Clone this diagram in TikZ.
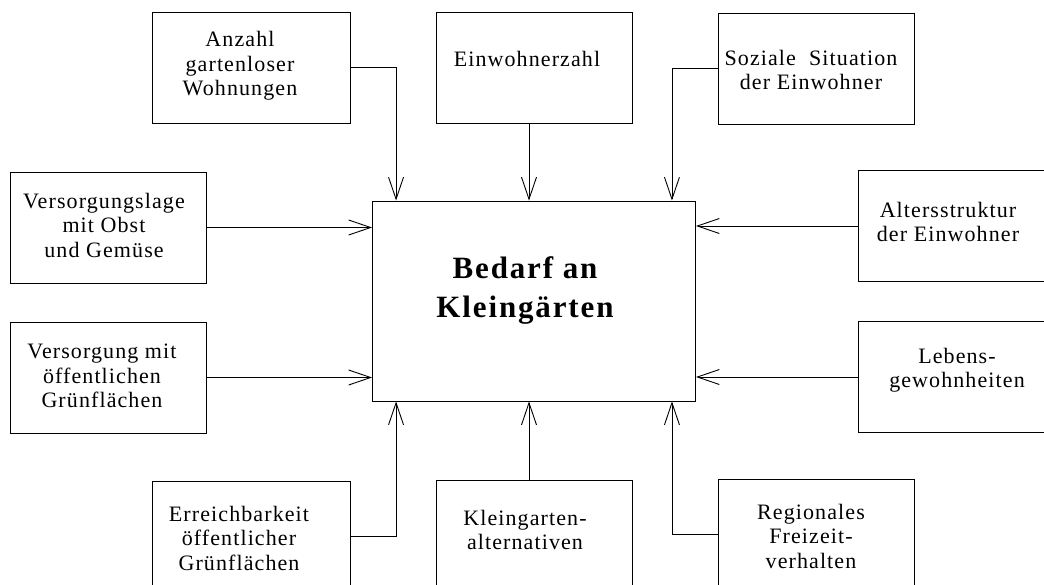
\documentclass[tikz,border=0pt]{standalone}
\usepackage{fontspec}
\setmainfont{Liberation Serif}
\newfontfamily\boxfont{Liberation Serif}[LetterSpace=5]
\newfontfamily\titlefont{Liberation Serif}[LetterSpace=6]
\usepackage{tikz}
\usetikzlibrary{arrows.meta,positioning}

\begin{document}
\begin{tikzpicture}[
  x=1pt,y=-1pt,
  box/.style={draw,line width=0.9pt,minimum width=196pt,minimum height=111pt,inner sep=0pt},
  bigbox/.style={draw,line width=0.9pt,minimum width=323pt,minimum height=200pt,inner sep=0pt},
  txt/.style={inner sep=0pt,align=center,font=\boxfont\fontsize{22}{24.5}\selectfont},
  arr/.style={line width=0.9pt,-{Straight Barb[length=22pt,width=15pt,line width=0.9pt]}},
]
  \path[use as bounding box,clip] (0,0) rectangle (1044,584);
  \fill[white] (0,0) rectangle (1044,584);

  \node[bigbox] (ctr) at (534,301) {};
  \node[txt,font=\titlefont\bfseries\fontsize{31}{39}\selectfont] (ctrT) at (525,291) {Bedarf an\\Kleingärten};

  \node[box,minimum width=198pt] (anz) at (251,67.5) {};
  \node[txt] (anzT) at (240,66) {Anzahl\\gartenloser\\Wohnungen};
  \node[box] (einw) at (534,67.5) {};
  \node[txt] (einwT) at (527,59) {Einwohnerzahl};
  \node[box] (soz) at (816,68.5) {};
  \node[txt] (sozT) at (811,70) {Soziale~~Situation\\der Einwohner};

  \node[box] (vers1) at (108,227.5) {};
  \node[txt] (vers1T) at (104,225) {Versorgungslage\\mit Obst\\und Gemüse};
  \node[box] (vers2) at (108,377.5) {};
  \node[txt] (vers2T) at (102,376) {Versorgung mit\\öffentlichen\\Grünflächen};

  \node[box] (alter) at (956,226) {};
  \node[txt] (alterT) at (948,222) {Altersstruktur\\der Einwohner};
  \node[box] (leben) at (956,377) {};
  \node[txt] (lebenT) at (957,370) {Lebens-\\gewohnheiten};

  \node[box,minimum width=198pt] (erreich) at (251,536.5) {};
  \node[txt] (erreichT) at (239,538) {Erreichbarkeit\\öffentlicher\\Grünflächen};
  \node[box] (klein) at (534,535.5) {};
  \node[txt] (kleinT) at (525,530) {Kleingarten-\\alternativen};
  \node[box] (region) at (816.5,534.5) {};
  \node[txt] (regionT) at (811,536) {Regionales\\Freizeit-\\verhalten};

  \draw[arr] (anz.east) -| ([xshift=24pt]ctr.north west);
  \draw[arr] ([xshift=-5pt]einw.south) -- ([xshift=-5pt]ctr.north);
  \draw[arr] (soz.west) -| ([xshift=-24pt]ctr.north east);
  \draw[arr] (vers1.east) -- (vers1.east -| ctr.west);
  \draw[arr] (vers2.east) -- (vers2.east -| ctr.west);
  \draw[arr] (alter.west) -- (alter.west -| ctr.east);
  \draw[arr] (leben.west) -- (leben.west -| ctr.east);
  \draw[arr] (erreich.east) -| ([xshift=24pt]ctr.south west);
  \draw[arr] ([xshift=-5pt]klein.north) -- ([xshift=-5pt]ctr.south);
  \draw[arr] (region.west) -| ([xshift=-24pt]ctr.south east);
\end{tikzpicture}
\end{document}
